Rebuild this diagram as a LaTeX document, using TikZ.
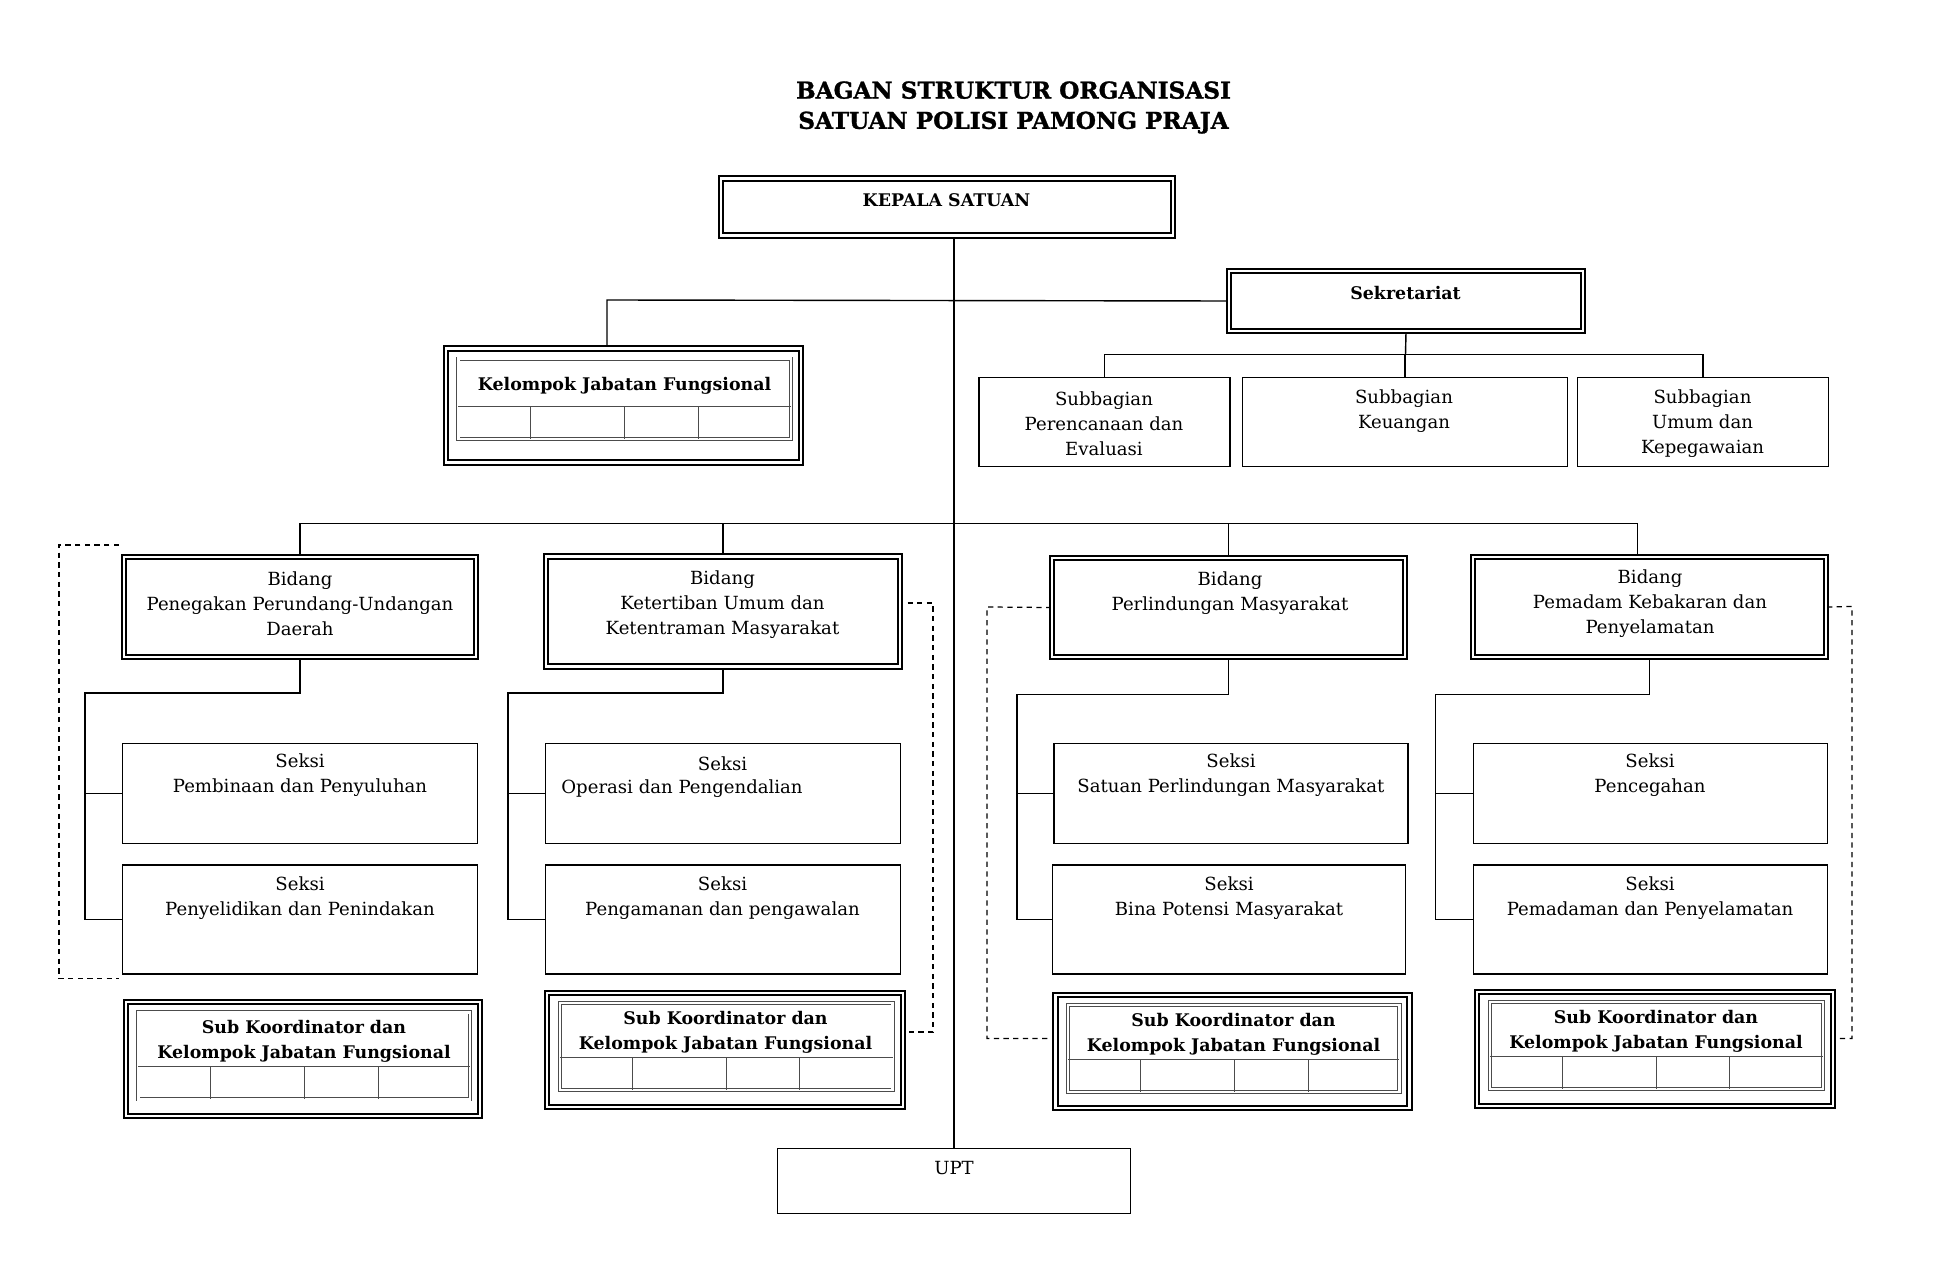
\documentclass[tikz,border=0pt]{standalone}
\usepackage{fontspec}
\setmainfont{DejaVu Serif}
\newfontfamily\hurufjudul[BoldFeatures={FakeBold=1.2}]{DejaVu Serif}
\usetikzlibrary{calc}
\pgfdeclarelayer{edgelayer}
\pgfdeclarelayer{nodelayer}
\pgfsetlayers{edgelayer,nodelayer,main}
\tikzstyle{kotak}=[rectangle,fill=white,draw=black,line width=0.8pt,inner sep=0pt]
\tikzstyle{kotakganda}=[rectangle,fill=white,draw=black,line width=1.1pt,double=white,double distance=1.3pt,inner sep=0pt]
\tikzstyle{teks}=[inner sep=0pt,align=center,font=\fontsize{10.3}{14.2}\selectfont]
\tikzstyle{tebal}=[inner sep=0pt,align=center,font=\fontsize{9.9}{14.2}\selectfont\bfseries]
\tikzstyle{judul}=[inner sep=0pt,align=center,font=\hurufjudul\fontsize{13.2}{17.2}\selectfont\bfseries]
\tikzstyle{garis}=[-,draw=black,line width=0.8pt]
\tikzstyle{putus}=[-,draw=black,line width=0.7pt,dash pattern=on 3pt off 2.5pt]
\tikzstyle{tabel}=[draw=black!70,line width=0.45pt,double=white,double distance=1.4pt]
\tikzstyle{sel}=[draw=black!70,line width=0.6pt]
% tabel kecil di dalam kotak jabatan fungsional: #1 kotak, #2 batas baris judul, #3 batas bawah
\newcommand{\tabeljabatan}[3]{%
  \draw [style=tabel] ($(#1.north west)+(0.27,-0.22)$) rectangle ($(#1.north east)+(-0.22,-#3)$);
  \draw [style=sel] ($(#1.north west)+(0.27,-#2)$) -- ($(#1.north east)+(-0.22,-#2)$);
  \foreach \kol in {1.45,3.33,4.80}
    \draw [style=sel] ($(#1.north west)+(0.27+\kol,-#2)$) -- ($(#1.north west)+(0.27+\kol,-#3)$);
}
\begin{document}
\begin{tikzpicture}
	\useasboundingbox (0,0) rectangle (39,-25.5);
	\begin{pgfonlayer}{nodelayer}
		\node [style=judul] (judul) at (20.27, -2.15) {BAGAN STRUKTUR ORGANISASI\\SATUAN POLISI PAMONG PRAJA};
		% pimpinan dan sekretariat
		\node [style=kotakganda, minimum width=9.05cm, minimum height=1.14cm] (kepala) at (18.94, -4.14) {};
		\node [style=tebal] (kepala-t) at (18.93, -4.01) {KEPALA SATUAN};
		\node [style=kotakganda, minimum width=7.07cm, minimum height=1.20cm] (sekr) at (28.12, -6.02) {};
		\node [style=tebal] (sekr-t) at (28.11, -5.86) {Sekretariat};
		\node [style=kotakganda, minimum width=7.11cm, minimum height=2.28cm] (kjf) at (12.47, -8.11) {};
		\node [style=tebal] (kjf-t) at (12.49, -7.71) {Kelompok Jabatan Fungsional};
		\node [style=kotak, minimum width=5.02cm, minimum height=1.77cm] (subbag1) at (22.09, -8.44) {};
		\node [style=kotak, minimum width=6.49cm, minimum height=1.77cm] (subbag2) at (28.10, -8.44) {};
		\node [style=kotak, minimum width=5.01cm, minimum height=1.77cm] (subbag3) at (34.06, -8.44) {};
		\node [style=teks] (subbag1-t) at (22.08, -8.47) {Subbagian\\Perencanaan dan\\Evaluasi};
		\node [style=teks] (subbag2-t) at (28.08, -8.22) {Subbagian\\Keuangan};
		\node [style=teks] (subbag3-t) at (34.05, -8.47) {Subbagian\\Umum dan\\Kepegawaian};
		% bidang
		\node [style=kotakganda, minimum width=7.05cm, minimum height=2.01cm] (bid1) at (6.00, -12.14) {};
		\node [style=kotakganda, minimum width=7.07cm, minimum height=2.20cm] (bid2) at (14.46, -12.23) {};
		\node [style=kotakganda, minimum width=7.05cm, minimum height=1.98cm] (bid3) at (24.57, -12.15) {};
		\node [style=kotakganda, minimum width=7.06cm, minimum height=2.01cm] (bid4) at (32.99, -12.14) {};
		\node [style=teks] (bid1-t) at (6.00, -12.07) {Bidang\\Penegakan Perundang-Undangan\\Daerah};
		\node [style=teks] (bid2-t) at (14.45, -12.10) {Bidang\\Ketertiban Umum dan\\Ketentraman Masyarakat};
		\node [style=teks] (bid3-t) at (24.60, -11.87) {Bidang\\Perlindungan Masyarakat};
		\node [style=teks] (bid4-t) at (33.00, -12.07) {Bidang\\Pemadam Kebakaran dan\\Penyelamatan};
		% seksi
		\node [style=kotak, minimum width=7.09cm, minimum height=2.01cm] (sA1) at (6.00, -15.87) {};
		\node [style=kotak, minimum width=7.09cm, minimum height=2.18cm] (sA2) at (6.00, -18.39) {};
		\node [style=kotak, minimum width=7.09cm, minimum height=2.01cm] (sB1) at (14.46, -15.87) {};
		\node [style=kotak, minimum width=7.09cm, minimum height=2.18cm] (sB2) at (14.46, -18.39) {};
		\node [style=kotak, minimum width=7.08cm, minimum height=2.01cm] (sC1) at (24.62, -15.87) {};
		\node [style=kotak, minimum width=7.07cm, minimum height=2.18cm] (sC2) at (24.58, -18.39) {};
		\node [style=kotak, minimum width=7.09cm, minimum height=2.01cm] (sD1) at (33.01, -15.87) {};
		\node [style=kotak, minimum width=7.09cm, minimum height=2.18cm] (sD2) at (33.01, -18.39) {};
		\node [style=teks] (sA1-t) at (6.00, -15.50) {Seksi\\Pembinaan dan Penyuluhan};
		\node [style=teks] (sA2-t) at (6.00, -17.96) {Seksi\\Penyelidikan dan Penindakan};
		\node [style=teks] (sB1-t) at (14.45, -15.27) {Seksi};
		\node [style=teks] (sB1-u) at (13.64, -15.77) {Operasi dan Pengendalian};
		\node [style=teks] (sB2-t) at (14.45, -17.96) {Seksi\\Pengamanan dan pengawalan};
		\node [style=teks] (sC1-t) at (24.62, -15.50) {Seksi\\Satuan Perlindungan Masyarakat};
		\node [style=teks] (sC2-t) at (24.58, -17.96) {Seksi\\Bina Potensi Masyarakat};
		\node [style=teks] (sD1-t) at (33.00, -15.50) {Seksi\\Pencegahan};
		\node [style=teks] (sD2-t) at (33.00, -17.96) {Seksi\\Pemadaman dan Penyelamatan};
		% sub koordinator
		\node [style=kotakganda, minimum width=7.09cm, minimum height=2.27cm] (sk1) at (6.06, -21.18) {};
		\node [style=kotakganda, minimum width=7.11cm, minimum height=2.28cm] (sk2) at (14.50, -21.00) {};
		\node [style=kotakganda, minimum width=7.08cm, minimum height=2.26cm] (sk3) at (24.65, -21.03) {};
		\node [style=kotakganda, minimum width=7.11cm, minimum height=2.28cm] (sk4) at (33.10, -20.98) {};
		\node [style=tebal] (sk1-t) at (6.08, -20.82) {Sub Koordinator dan\\Kelompok Jabatan Fungsional};
		\node [style=tebal] (sk2-t) at (14.51, -20.64) {Sub Koordinator dan\\Kelompok Jabatan Fungsional};
		\node [style=tebal] (sk3-t) at (24.67, -20.69) {Sub Koordinator dan\\Kelompok Jabatan Fungsional};
		\node [style=tebal] (sk4-t) at (33.12, -20.63) {Sub Koordinator dan\\Kelompok Jabatan Fungsional};
		\node [style=kotak, minimum width=7.05cm, minimum height=1.31cm] (upt) at (19.08, -23.62) {};
		\node [style=teks] (upt-t) at (19.08, -23.37) {UPT};
		% titik belok
		\coordinate (cabangkjf) at (12.14, -6.00);
		\coordinate (cabangsub) at (28.11, -7.09);
		\coordinate (cabangbid) at (32.75, -10.47);
		\coordinate (siku1) at (1.70, -13.86);
		\coordinate (siku2) at (10.16, -13.86);
		\coordinate (siku3) at (20.34, -13.89);
		\coordinate (siku4) at (28.71, -13.89);
		\coordinate (p1a) at (2.38, -10.90);
		\coordinate (p1b) at (1.18, -10.90);
		\coordinate (p1c) at (2.38, -19.57);
		\coordinate (p2a) at (18.15, -12.06);
		\coordinate (p2b) at (18.66, -12.06);
		\coordinate (p2c) at (18.15, -20.64);
		\coordinate (p3b) at (19.74, -12.14);
		\coordinate (p3c) at (21.02, -20.77);
		\coordinate (p4b) at (37.04, -12.13);
		\coordinate (p4c) at (36.65, -20.77);
	\end{pgfonlayer}
	\begin{pgfonlayer}{edgelayer}
		\draw [style=garis] (upt.north |- kepala.south) to (upt.north);
		\draw [style=garis] (sekr.west) to (cabangkjf) to (cabangkjf |- kjf.north);
		\draw [style=garis] (sekr.south) to (cabangsub);
		\draw [style=garis] (subbag1.north) |- (cabangsub) -| (subbag3.north);
		\draw [style=garis] (subbag2.north) to (subbag2.north |- cabangsub);
		\draw [style=garis] (bid1.north) |- (cabangbid) to (cabangbid |- bid4.north);
		\draw [style=garis] (bid2.north) to (bid2.north |- cabangbid);
		\draw [style=garis] (bid3.north) to (bid3.north |- cabangbid);
		\draw [style=garis] (bid1.south) |- (siku1) |- (sA2.west);
		\draw [style=garis] (siku1) |- (sA1.west);
		\draw [style=garis] (bid2.south) |- (siku2) |- (sB2.west);
		\draw [style=garis] (siku2) |- (sB1.west);
		\draw [style=garis] (bid3.south) |- (siku3) |- (sC2.west);
		\draw [style=garis] (siku3) |- (sC1.west);
		\draw [style=garis] (bid4.south) |- (siku4) |- (sD2.west);
		\draw [style=garis] (siku4) |- (sD1.west);
		\draw [style=putus] (p1a) to (p1b) |- (p1c);
		\draw [style=putus] (p2a) to (p2b) |- (p2c);
		\draw [style=putus] (bid3.west) to (p3b) |- (p3c);
		\draw [style=putus] (bid4.east) to (p4b) |- (p4c);
	\end{pgfonlayer}
	\tabeljabatan{kjf}{1.17}{1.83}
	\tabeljabatan{sk1}{1.31}{1.96}
	\tabeljabatan{sk2}{1.31}{1.96}
	\tabeljabatan{sk3}{1.31}{1.96}
	\tabeljabatan{sk4}{1.31}{1.96}
\end{tikzpicture}
\end{document}
